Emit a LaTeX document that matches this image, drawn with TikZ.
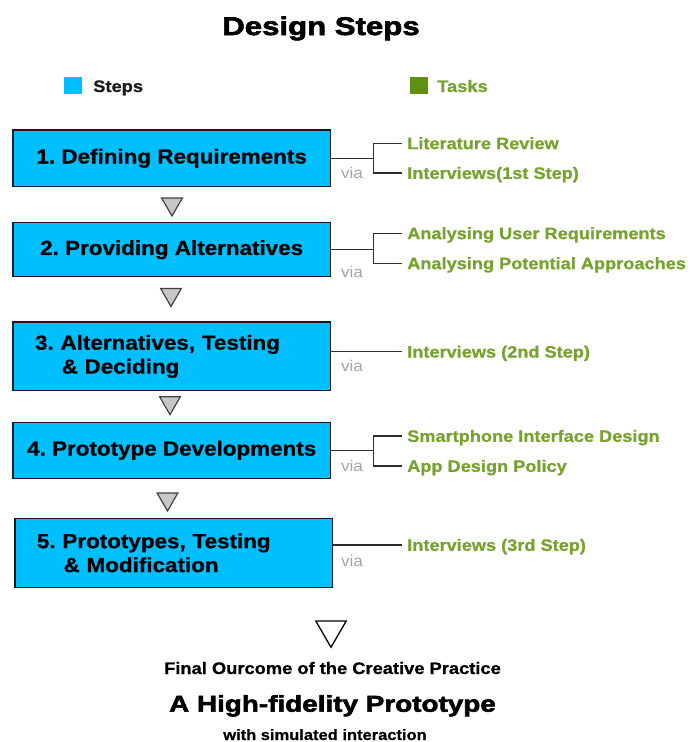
\documentclass[tikz,border=0pt]{standalone}
\usepackage{fontspec}
\setmainfont{Liberation Sans}[FakeStretch=1.1,BoldFeatures={FakeBold=0.8}]
\newfontfamily\heavyfont{Liberation Sans}[FakeStretch=1.22,BoldFeatures={FakeBold=2.5}]
\usetikzlibrary{shapes.geometric}
\frenchspacing
\definecolor{stepblue}{RGB}{0,191,255}
\definecolor{taskgreen}{RGB}{118,162,46}
\definecolor{keygreen}{RGB}{96,144,16}
\definecolor{viagrey}{RGB}{165,165,165}
\definecolor{linegrey}{RGB}{45,45,45}
\tikzset{
  stepbox/.style={rectangle, draw=black!90, line width=1.2pt, fill=stepblue, inner sep=0pt, minimum width=9.525cm, align=center, font=\fontsize{17.4}{20.4}\selectfont\bfseries},
  twoline/.style={text width=8.2cm, align=left},
  task/.style={anchor=west, inner xsep=0.15cm, inner ysep=0pt, text height=10pt, text depth=0pt, text=taskgreen, font=\fontsize{14.1}{16}\selectfont\bfseries},
  viatext/.style={text=viagrey, inner sep=0pt, font=\fontsize{13.3}{15}\selectfont},
  link/.style={draw=linegrey, line width=1.2pt},
  downtri/.style={regular polygon, regular polygon sides=3, regular polygon rotate=180, draw=black!75, fill=black!22, line width=1pt, inner sep=0pt, minimum size=0.72cm},
  keybox/.style={rectangle, minimum width=0.54cm, minimum height=0.51cm, inner sep=0pt},
  keytext/.style={anchor=base west, inner sep=0pt, font=\fontsize{14.2}{16}\selectfont\bfseries}
}
\begin{document}
\begin{tikzpicture}[x=0.03cm, y=-0.03cm]
\useasboundingbox (0,0) rectangle (691,742);

\node[anchor=base, inner sep=0pt, font=\heavyfont\bfseries\fontsize{21.8}{24}\selectfont] (title) at (321,35) {Design Steps};

\node[keybox, fill=stepblue] (keysteps) at (73,85.5) {};
\node[keytext, text=black!90] (keystepslabel) at (93,92) {Steps};
\node[keybox, fill=keygreen] (keytasks) at (419,85.5) {};
\node[keytext, text=taskgreen] (keytaskslabel) at (437,92) {Tasks};

\node[stepbox, minimum height=1.70cm] (s1) at (171.7,158.3) {1. Defining Requirements};
\node[stepbox, minimum height=1.62cm] (s2) at (171.7,249.7) {2. Providing Alternatives};
\node[stepbox, twoline, minimum height=2.06cm] (s3) at (171.7,356.4) {3. Alternatives, Testing\\\hspace*{0.8cm}\& Deciding};
\node[stepbox, minimum height=1.68cm] (s4) at (171.7,450.3) {4. Prototype Developments};
\node[stepbox, twoline, minimum height=2.07cm] (s5) at (173.6,552.8) {5. Prototypes, Testing\\\hspace*{0.8cm}\& Modification};

\node[downtri] (d1) at (172,204) {};
\node[downtri] (d2) at (171,294.5) {};
\node[downtri] (d3) at (170,402.7) {};
\node[downtri] (d4) at (167.5,499) {};
\node[downtri, fill=white, draw=black, line width=1.1pt, minimum size=1.05cm] (d5) at (331,629.8) {};

\node[task] (t1a) at (402,143.3) {Literature Review};
\node[task] (t1b) at (402,173) {Interviews(1st Step)};
\node[task] (t2a) at (402,233.3) {Analysing User Requirements};
\node[task] (t2b) at (402,263.3) {Analysing Potential Approaches};
\node[task] (t3) at (402,351.7) {Interviews (2nd Step)};
\node[task] (t4a) at (402,436) {Smartphone Interface Design};
\node[task] (t4b) at (402,466) {App Design Policy};
\node[task] (t5) at (402,545) {Interviews (3rd Step)};

\coordinate (j1) at (373.5,158.3);
\coordinate (j2) at (373.5,249.7);
\coordinate (j4) at (373.5,450.3);

\draw[link](s1.east) -- (j1);
\draw[link](t1a.west) -| (j1) |- (t1b.west);
\draw[link](s2.east) -- (j2);
\draw[link](t2a.west) -| (j2) |- (t2b.west);
\draw[link](s3.east |- t3.west) -- (t3.west);
\draw[link](s4.east) -- (j4);
\draw[link](t4a.west) -| (j4) |- (t4b.west);
\draw[link](s5.east |- t5.west) -- (t5.west);

\node[viatext] (v1) at (352,173.3) {via};
\node[viatext] (v2) at (352,271.7) {via};
\node[viatext] (v3) at (352,366) {via};
\node[viatext] (v4) at (352,465.7) {via};
\node[viatext] (v5) at (352,561) {via};

\node[anchor=base, inner sep=0pt, font=\fontsize{14.2}{16}\selectfont\bfseries] (outcome) at (332.5,674) {Final Ourcome of the Creative Practice};
\node[anchor=base, inner sep=0pt, font=\heavyfont\bfseries\fontsize{19.5}{22}\selectfont] (result) at (332.5,711.7) {A High-fidelity Prototype};
\node[anchor=base, inner sep=0pt, font=\fontsize{12.8}{14}\selectfont\bfseries] (note) at (325,740) {with simulated interaction};

\end{tikzpicture}
\end{document}
